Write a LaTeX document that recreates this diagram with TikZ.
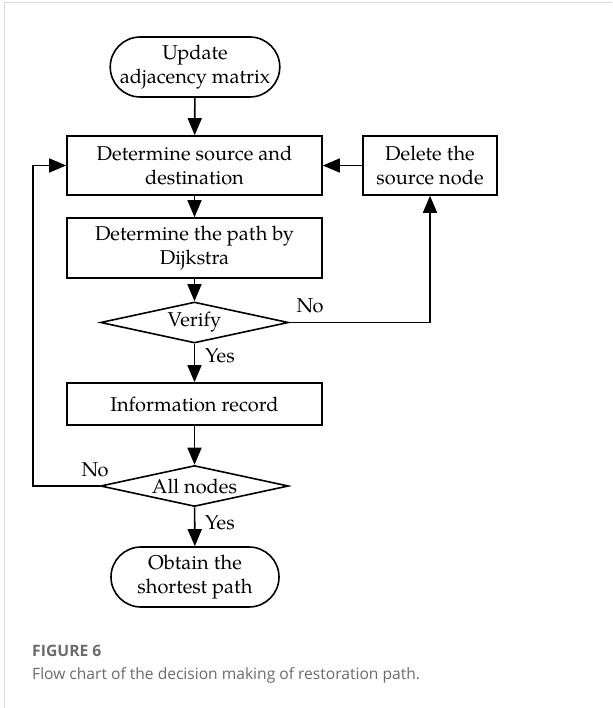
\documentclass[tikz,border=0pt]{standalone}
\usepackage{fontspec}
\setmainfont{TeX Gyre Pagella}
\newfontfamily\capfont{Open Sans}
\usetikzlibrary{shapes.geometric,shapes.misc,arrows.meta}
\begin{document}
\begin{tikzpicture}[x=1pt,y=-1pt,
  every node/.style={font=\fontsize{20}{24}\selectfont, align=center, inner sep=0pt},
  flow/.style={line width=1.6pt, -{Triangle[length=17pt,width=14pt]}},
  term/.style={draw, line width=1.6pt, rounded rectangle, minimum width=168pt, minimum height=60pt},
  proc/.style={draw, line width=1.6pt, rectangle, minimum width=255pt},
  test/.style={draw, line width=1.6pt, diamond, aspect=4.6, minimum width=188pt, minimum height=41pt},
  lbl/.style={font=\fontsize{20}{24}\selectfont}
]
\useasboundingbox (0,0) rectangle (612,708);
% card border
\draw[line width=1pt, draw=black!15] (4,708) -- (4,3) -- (612,3);

\node[term] (start) at (195,67) {Update\\adjacency matrix};
\node[proc, minimum height=59pt] (src) at (194.5,165.5) {Determine source and\\destination};
\node[draw, line width=1.6pt, minimum width=134pt, minimum height=59pt] (del) at (430,165.5) {Delete the\\source node};
\node[proc, minimum height=60pt] (dij) at (194.5,248) {Determine the path by\\Dijkstra};
\node[test] (ver) at (194.5,322.5) {Verify};
\node[proc, minimum height=42pt] (rec) at (194.5,404) {Information record};
\node[test] (all) at (194.5,486) {All nodes};
\node[term] (stop) at (195,577) {Obtain the\\shortest path};

\coordinate (vr) at (430,322.5);
\coordinate (al) at (33,486);
\coordinate (ar) at (33,165.5);

\draw[flow] (start) -- (src);
\draw[flow] (src) -- (dij);
\draw[flow] (dij) -- (ver);
\draw[flow] (ver) -- (rec);
\draw[flow] (rec) -- (all);
\draw[flow] (all) -- (stop);
\draw[flow] (del) -- (src);
\draw[flow] (ver.east) -- (vr) -- (del.south);
\draw[flow] (all.west) -- (al) -- (ar) -- (src.west);

\node[lbl] (no1) at (310,306) {No};
\node[lbl] (yes1) at (220,356) {Yes};
\node[lbl] (no2) at (95,470) {No};
\node[lbl] (yes2) at (220,523) {Yes};

\node[anchor=base west, text=black!58, font=\capfont\bfseries\fontsize{15.7}{18}\selectfont] (fig) at (32,656) {FIGURE 6};
\node[anchor=base west, text=black!58, font=\capfont\fontsize{15.6}{18}\selectfont] (cap) at (32,679) {Flow chart of the decision making of restoration path.};
\end{tikzpicture}
\end{document}
